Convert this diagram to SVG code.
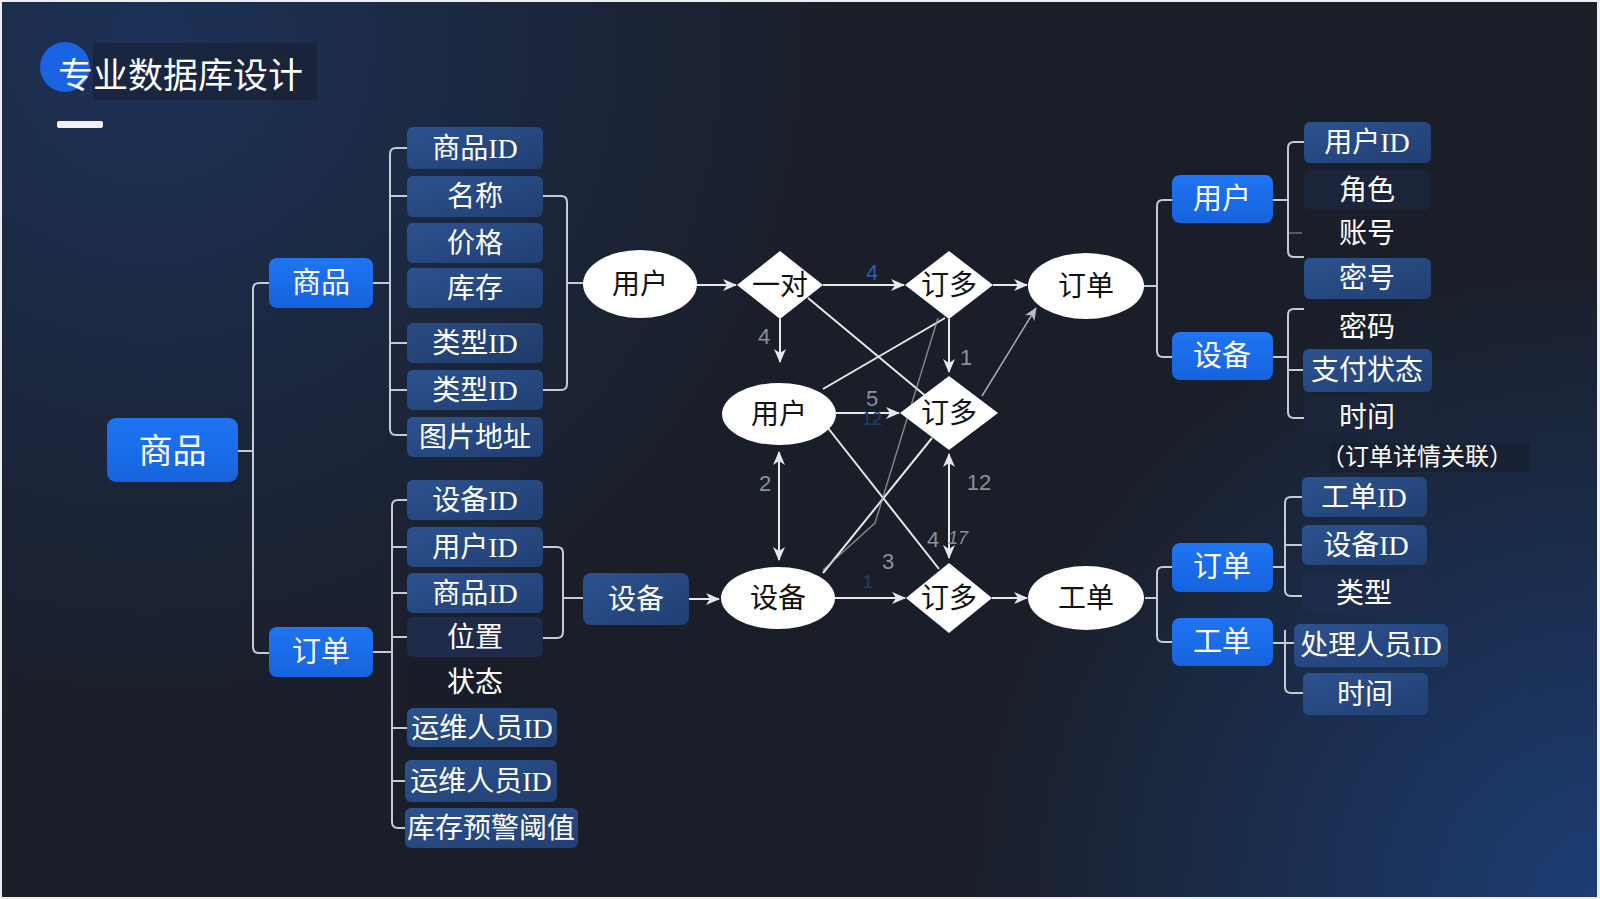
<svg xmlns="http://www.w3.org/2000/svg" width="1600" height="899" viewBox="0 0 1600 899">
<defs>
<radialGradient id="glowTL" cx="150" cy="40" r="700" gradientUnits="userSpaceOnUse">
<stop offset="0" stop-color="#1d3157"/><stop offset="1" stop-color="#1d3157" stop-opacity="0"/>
</radialGradient>
<radialGradient id="glowBR" cx="1600" cy="899" r="650" gradientUnits="userSpaceOnUse">
<stop offset="0" stop-color="#1c3d74"/><stop offset="1" stop-color="#1c3d74" stop-opacity="0"/>
</radialGradient>
<linearGradient id="gBright" x1="0" y1="0" x2="0" y2="1">
<stop offset="0" stop-color="#1f75f3"/><stop offset="1" stop-color="#1663de"/>
</linearGradient>
<linearGradient id="gField" x1="0" y1="0" x2="1" y2="1">
<stop offset="0" stop-color="#2c528f"/><stop offset="1" stop-color="#213f72"/>
</linearGradient>
<marker id="ah" viewBox="0 0 14 14" refX="13" refY="7" markerWidth="14" markerHeight="14" markerUnits="userSpaceOnUse" orient="auto-start-reverse">
<path d="M0,1 L14,7 L0,13 L4,7 z" fill="#e6e8ec"/>
</marker>
<marker id="ahs" viewBox="0 0 14 14" refX="13" refY="7" markerWidth="13" markerHeight="13" markerUnits="userSpaceOnUse" orient="auto">
<path d="M0,1 L14,7 L0,13 L4,7 z" fill="#b9bdc5"/>
</marker>
<style>
text{font-family:"Liberation Serif","Noto Sans CJK SC",serif;text-anchor:middle;dominant-baseline:central}
.bright{fill:url(#gBright)}
.field{fill:url(#gField)}
.dark{fill:#1f2c49}
.darker{fill:#1b2439}
.vdark{fill:#181d29}
.tw{fill:#ffffff;font-size:28px}
.tb{fill:#ffffff;font-size:29px}
.tk{fill:#111111;font-size:28px}
.wshape{fill:#ffffff}
.tree{fill:none;stroke:#c6cad2;stroke-width:2}
.arr{fill:none;stroke:#e6e8ec;stroke-width:2}
.ln{fill:none;stroke:#e6e8ec;stroke-width:2}
.thin{fill:none;stroke:#a9aeb7;stroke-width:1.5}
.num{font-family:"Liberation Sans","Noto Sans CJK SC",sans-serif;font-size:22px;fill:#8b909a}
.numb{font-family:"Liberation Sans","Noto Sans CJK SC",sans-serif;font-size:22px;fill:#2d5cb5}
.numf{font-family:"Liberation Sans","Noto Sans CJK SC",sans-serif;font-size:18px;fill:#1f3f78}
</style>
</defs>

<!-- background -->
<rect x="0" y="0" width="1600" height="899" fill="#eeeeee"/>
<rect x="2" y="2" width="1595" height="895" fill="#1a1e28"/>
<rect x="2" y="2" width="1595" height="895" fill="url(#glowTL)"/>
<rect x="2" y="2" width="1595" height="895" fill="url(#glowBR)"/>

<!-- title -->
<g id="title">
<rect x="93" y="43" width="224" height="57" fill="#161b26" opacity="0.45"/>
<circle cx="65" cy="67" r="25" fill="#1a63e2"/>
<text x="58" y="72" style="font-family:'Noto Sans CJK SC',sans-serif;font-size:35px;fill:#ffffff;text-anchor:start">专业数据库设计</text>
<rect x="57" y="121" width="46" height="7" rx="2" fill="#f2f2f2"/>
</g>

<!-- connectors -->
<g id="connectors">
<path class="tree" d="M238,451 H253 M269,283 H259 Q253,283 253,289 V647 Q253,653 259,653 H269"/>
<path class="tree" d="M373,283 H390 M407,148 H396 Q390,148 390,154 V429 Q390,435 396,435 H407 M390,196 H407 M390,343 H407 M390,390 H407"/>
<path class="tree" d="M543,196 H561 Q567,196 567,202 V384 Q567,390 561,390 H543 M567,283 H583"/>
<path class="tree" d="M373,652 H392 M407,500 H398 Q392,500 392,506 V822 Q392,828 398,828 H405 M392,547 H407 M392,593 H407 M392,637 H407 M392,728 H407 M392,781 H405"/>
<path class="tree" d="M543,547 H557 Q563,547 563,553 V632 Q563,638 557,638 H543 M563,598 H583"/>
<path class="tree" d="M1144,286 H1157 M1172,200 H1163 Q1157,200 1157,206 V351 Q1157,357 1163,357 H1172"/>
<path class="tree" d="M1273,200 H1288 M1304,142 H1294 Q1288,142 1288,148 V251 Q1288,257 1294,257 H1304"/>
<path class="tree" d="M1288,233 H1302" opacity="0.35"/>
<path class="tree" d="M1273,357 H1288 M1304,309 H1294 Q1288,309 1288,315 V412 Q1288,418 1294,418 H1304 M1288,370 H1303"/>
<path class="tree" d="M1145,598 H1157 M1172,567 H1163 Q1157,567 1157,573 V636 Q1157,642 1163,642 H1172"/>
<path class="tree" d="M1273,567 H1285 M1302,497 H1291 Q1285,497 1285,503 V590 Q1285,596 1291,596 H1302 M1285,545 H1302"/>
<path class="tree" d="M1273,643 H1294 M1285,630 V687 Q1285,693 1291,693 H1303"/>
<path class="arr" d="M689,599 H719" marker-end="url(#ah)"/>
<path class="arr" d="M697,285 H736" marker-end="url(#ah)"/>
<path class="arr" d="M823,285 H904" marker-end="url(#ah)"/>
<path class="arr" d="M993,285 H1027" marker-end="url(#ah)"/>
<path class="arr" d="M780,319 V362" marker-end="url(#ah)"/>
<path class="arr" d="M949,319 V372" marker-end="url(#ah)"/>
<path class="arr" d="M836,413 H899" marker-end="url(#ah)"/>
<path class="arr" d="M779,452 V560" marker-start="url(#ah)" marker-end="url(#ah)"/>
<path class="arr" d="M949,454 V558" marker-start="url(#ah)" marker-end="url(#ah)"/>
<path class="arr" d="M835,598 H905" marker-end="url(#ah)"/>
<path class="arr" d="M992,598 H1027" marker-end="url(#ah)"/>
<path class="thin" d="M982,396 L1036,308" marker-end="url(#ahs)"/>
<path class="ln" d="M808,298 L928,398"/>
<path class="ln" d="M823,389 L945,318"/>
<path class="ln" d="M828,428 L939,569"/>
<path class="ln" d="M823,573 L932,438"/>
<path class="thin" d="M823,570 L875,523 L938,318" opacity="0.7"/>
<text class="numb" x="872" y="272">4</text>
<text class="num" x="764" y="336">4</text>
<text class="num" x="966" y="357">1</text>
<text class="num" x="872" y="398">5</text>
<text class="numf" x="872" y="419">12</text>
<text class="num" x="765" y="483">2</text>
<text class="num" x="979" y="482">12</text>
<text class="num" x="933" y="539">4</text>
<text class="num" x="958" y="538" style="font-style:italic;font-size:18px">17</text>
<text class="num" x="888" y="561">3</text>
<text class="numf" x="868" y="582">1</text>
</g>

<!-- left nodes -->
<g id="n-root"><rect class="bright" x="107" y="418" width="131" height="64" rx="9"/><text class="tw" x="172.5" y="451" style="font-size:34px">商品</text></g>
<g id="n-goods"><rect class="bright" x="269" y="258" width="104" height="50" rx="8"/><text class="tb" x="321" y="283">商品</text></g>
<g id="n-order"><rect class="bright" x="269" y="627" width="104" height="50" rx="8"/><text class="tb" x="321" y="652">订单</text></g>

<g id="f-goodsid"><rect class="field" x="407" y="127" width="136" height="42" rx="6"/><text class="tw" x="475" y="148">商品ID</text></g>
<g id="f-name"><rect class="field" x="407" y="176" width="136" height="41" rx="6"/><text class="tw" x="475" y="196">名称</text></g>
<g id="f-price"><rect class="field" x="407" y="223" width="136" height="40" rx="6"/><text class="tw" x="475" y="243">价格</text></g>
<g id="f-stock"><rect class="field" x="407" y="268" width="136" height="40" rx="6"/><text class="tw" x="475" y="288">库存</text></g>
<g id="f-type1"><rect class="field" x="407" y="323" width="136" height="40" rx="6" opacity="0.85"/><text class="tw" x="475" y="343">类型ID</text></g>
<g id="f-type2"><rect class="field" x="407" y="370" width="136" height="40" rx="6"/><text class="tw" x="475" y="390">类型ID</text></g>
<g id="f-img"><rect class="field" x="407" y="417" width="136" height="40" rx="6"/><text class="tw" x="475" y="437">图片地址</text></g>

<g id="f-devid"><rect class="field" x="407" y="480" width="136" height="40" rx="6"/><text class="tw" x="475" y="500">设备ID</text></g>
<g id="f-userid"><rect class="field" x="407" y="527" width="136" height="40" rx="6"/><text class="tw" x="475" y="547">用户ID</text></g>
<g id="f-goodsid2"><rect class="field" x="407" y="573" width="136" height="40" rx="6"/><text class="tw" x="475" y="593">商品ID</text></g>
<g id="f-pos"><rect class="dark" x="407" y="617" width="136" height="40" rx="6"/><text class="tw" x="475" y="637">位置</text></g>
<g id="f-state"><rect class="vdark" x="407" y="662" width="101" height="41" rx="6"/><text class="tw" x="475" y="682">状态</text></g>
<g id="f-ops1"><rect class="field" x="407" y="708" width="150" height="39" rx="6"/><text class="tw" x="482" y="728">运维人员ID</text></g>
<g id="f-ops2"><rect class="field" x="405" y="760" width="152" height="42" rx="6"/><text class="tw" x="481" y="781">运维人员ID</text></g>
<g id="f-warn"><rect class="field" x="405" y="808" width="173" height="40" rx="6"/><text class="tw" x="491" y="828">库存预警阈值</text></g>

<g id="n-devbox"><rect class="field" x="583" y="573" width="106" height="52" rx="8"/><text class="tw" x="636" y="599">设备</text></g>

<!-- middle nodes -->
<g id="e-user1"><ellipse class="wshape" cx="640" cy="284" rx="57" ry="34"/><text class="tk" x="640" y="284">用户</text></g>
<g id="d-onepair"><polygon class="wshape" points="780,251 823,285 780,319 737,285"/><text class="tk" x="780" y="285">一对</text></g>
<g id="d-top"><polygon class="wshape" points="949,251 993,285 949,319 905,285"/><text class="tk" x="949" y="285">订多</text></g>
<g id="e-order"><ellipse class="wshape" cx="1086" cy="286" rx="58" ry="33"/><text class="tk" x="1086" y="286">订单</text></g>
<g id="e-user2"><ellipse class="wshape" cx="779" cy="414" rx="57" ry="31"/><text class="tk" x="779" y="414">用户</text></g>
<g id="d-mid"><polygon class="wshape" points="949,376 998,413 949,450 900,413"/><text class="tk" x="949" y="413">订多</text></g>
<g id="e-dev"><ellipse class="wshape" cx="778" cy="598" rx="57" ry="31"/><text class="tk" x="778" y="598">设备</text></g>
<g id="d-bot"><polygon class="wshape" points="949,563 992,598 949,633 906,598"/><text class="tk" x="949" y="598">订多</text></g>
<g id="e-work"><ellipse class="wshape" cx="1086" cy="598" rx="58" ry="32"/><text class="tk" x="1086" y="598">工单</text></g>

<!-- right nodes -->
<g id="n-user"><rect class="bright" x="1172" y="175" width="101" height="48" rx="8"/><text class="tb" x="1222" y="199">用户</text></g>
<g id="n-dev"><rect class="bright" x="1172" y="332" width="101" height="48" rx="8"/><text class="tb" x="1222" y="356">设备</text></g>
<g id="n-order2"><rect class="bright" x="1172" y="543" width="101" height="49" rx="8"/><text class="tb" x="1222" y="567">订单</text></g>
<g id="n-work"><rect class="bright" x="1172" y="618" width="101" height="48" rx="8"/><text class="tb" x="1222" y="642">工单</text></g>

<g id="r-userid"><rect class="field" x="1304" y="122" width="127" height="41" rx="6"/><text class="tw" x="1367" y="142">用户ID</text></g>
<g id="r-role"><rect class="darker" x="1304" y="170" width="127" height="40" rx="6"/><text class="tw" x="1367" y="190">角色</text></g>
<g id="r-acct"><text class="tw" x="1367" y="233">账号</text></g>
<g id="r-pwd"><rect class="field" x="1304" y="258" width="127" height="41" rx="6"/><text class="tw" x="1367" y="278">密号</text></g>
<g id="r-pwd2"><text class="tw" x="1367" y="327">密码</text></g>
<g id="r-pay"><rect class="field" x="1303" y="349" width="129" height="43" rx="6"/><text class="tw" x="1367" y="370">支付状态</text></g>
<g id="r-time"><rect class="darker" x="1304" y="398" width="127" height="37" rx="6"/><text class="tw" x="1367" y="417">时间</text></g>
<g id="r-note"><rect x="1330" y="443" width="200" height="29" fill="#161a23" opacity="0.4"/><text x="1417" y="457" style="fill:#ffffff;font-size:24px">（订单详情关联）</text></g>

<g id="r-workid"><rect class="field" x="1302" y="477" width="125" height="40" rx="6"/><text class="tw" x="1364" y="497">工单ID</text></g>
<g id="r-devid"><rect class="field" x="1302" y="525" width="125" height="40" rx="6"/><text class="tw" x="1366" y="545">设备ID</text></g>
<g id="r-type"><rect class="dark" x="1302" y="573" width="125" height="40" rx="6"/><text class="tw" x="1364" y="593">类型</text></g>
<g id="r-handler"><rect class="field" x="1294" y="624" width="154" height="43" rx="6"/><text class="tw" x="1371" y="645">处理人员ID</text></g>
<g id="r-time2"><rect class="field" x="1303" y="673" width="125" height="42" rx="6"/><text class="tw" x="1365" y="694">时间</text></g>
</svg>
